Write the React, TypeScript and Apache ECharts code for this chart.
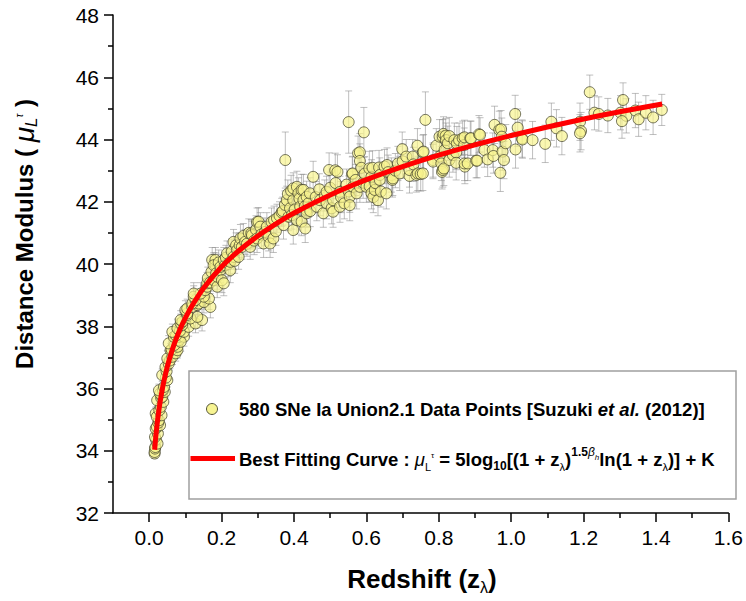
import React, { useEffect, useRef } from 'react';
import * as echarts from 'echarts';

// Axis ticks
const xTickValues = [0, 0.2, 0.4, 0.6, 0.8, 1.0, 1.2, 1.4, 1.6];
const xMinorTickValues = [0.1, 0.3, 0.5, 0.7, 0.9, 1.1, 1.3, 1.5];

// Supernova data points [z, mu, error]
const snLowZ: number[][] = [
  [0.015, 33.91, 0.15], [0.015, 33.96, 0.12], [0.016, 34.07, 0.15], [0.017, 34.12, 0.18],
  [0.019, 34.35, 0.15], [0.023, 34.23, 0.2], [0.016, 34.44, 0.15], [0.024, 34.55, 0.2],
  [0.018, 34.71, 0.18], [0.021, 34.77, 0.2], [0.03, 34.82, 0.2], [0.025, 34.9, 0.2],
  [0.027, 34.98, 0.22], [0.018, 35.2, 0.2], [0.021, 35.09, 0.2], [0.034, 35.14, 0.2],
  [0.028, 35.3, 0.2], [0.032, 35.41, 0.22], [0.022, 35.62, 0.2], [0.039, 35.57, 0.2],
  [0.033, 35.7, 0.2], [0.036, 35.73, 0.22], [0.03, 35.84, 0.2], [0.043, 35.89, 0.2],
  [0.038, 35.95, 0.22], [0.027, 35.94, 0.2], [0.041, 36.05, 0.25], [0.05, 36.27, 0.22],
  [0.046, 36.35, 0.22], [0.036, 36.43, 0.2], [0.048, 36.55, 0.22], [0.045, 36.69, 0.25],
  [0.054, 36.8, 0.22], [0.057, 36.9, 0.25], [0.05, 36.96, 0.25], [0.064, 37.02, 0.25],
  [0.073, 37.13, 0.25], [0.059, 37.23, 0.22], [0.062, 37.25, 0.25], [0.078, 37.23, 0.25],
  [0.078, 37.34, 0.25], [0.07, 37.4, 0.25], [0.054, 37.45, 0.25], [0.082, 37.55, 0.3],
  [0.068, 37.66, 0.25], [0.082, 37.66, 0.3], [0.096, 37.66, 0.3], [0.087, 37.5, 0.3],
  [0.074, 37.7, 0.25], [0.064, 37.82, 0.25], [0.096, 37.82, 0.3], [0.085, 37.85, 0.3],
  [0.078, 37.93, 0.3], [0.109, 37.98, 0.3], [0.091, 38.04, 0.3], [0.087, 38.09, 0.3],
  [0.128, 38.09, 0.3], [0.092, 38.15, 0.3], [0.087, 38.2, 0.3], [0.146, 38.2, 0.35],
  [0.114, 38.25, 0.3], [0.133, 38.3, 0.35], [0.105, 38.36, 0.3], [0.105, 38.41, 0.3],
  [0.1, 38.52, 0.3], [0.105, 38.57, 0.3], [0.119, 38.62, 0.3], [0.169, 38.62, 0.35],
  [0.133, 38.68, 0.35], [0.137, 38.73, 0.35], [0.119, 38.73, 0.3], [0.151, 38.78, 0.35],
  [0.128, 38.84, 0.35], [0.165, 38.89, 0.35], [0.123, 38.95, 0.35], [0.151, 38.95, 0.35],
  [0.142, 39.05, 0.35], [0.123, 39.05, 0.35],
];

const snMidZ: number[][] = [
  [0.155, 39.16, 0.35], [0.16, 39.27, 0.35], [0.16, 39.38, 0.35], [0.162, 39.55, 0.35],
  [0.168, 39.4, 0.35], [0.172, 39.75, 0.35], [0.174, 40.13, 0.4], [0.183, 39.96, 0.4],
  [0.183, 40.13, 0.4], [0.178, 39.96, 0.4], [0.178, 39.48, 0.35], [0.185, 39.7, 0.4],
  [0.188, 39.27, 0.35], [0.188, 39.59, 0.4], [0.192, 40.05, 0.4], [0.197, 39.8, 0.4],
  [0.197, 39.91, 0.4], [0.201, 39.48, 0.4], [0.206, 39.38, 0.4], [0.206, 40.13, 0.4],
  [0.21, 39.96, 0.4], [0.212, 40.2, 0.4], [0.215, 40.34, 0.4], [0.219, 40.0, 0.4],
  [0.224, 39.8, 0.4], [0.224, 40.07, 0.4], [0.228, 40.4, 0.4], [0.233, 40.23, 0.4],
  [0.233, 40.71, 0.4], [0.236, 40.1, 0.4], [0.24, 40.6, 0.4], [0.243, 40.45, 0.4],
  [0.247, 40.23, 0.4], [0.25, 40.6, 0.4], [0.252, 40.82, 0.45], [0.256, 40.55, 0.4],
  [0.26, 40.9, 0.4], [0.265, 40.71, 0.4], [0.27, 40.65, 0.4], [0.275, 41.0, 0.45],
  [0.279, 40.55, 0.4], [0.282, 40.98, 0.45], [0.284, 40.93, 0.45], [0.29, 40.75, 0.45],
  [0.295, 41.1, 0.45], [0.298, 40.82, 0.45], [0.298, 41.35, 0.45], [0.302, 41.36, 0.45],
  [0.307, 41.2, 0.45], [0.31, 40.95, 0.45], [0.316, 40.66, 0.45], [0.32, 41.03, 0.45],
  [0.325, 41.2, 0.45], [0.33, 40.87, 0.45], [0.334, 40.66, 0.45], [0.338, 41.35, 0.45],
  [0.343, 40.82, 0.45], [0.345, 41.41, 0.45], [0.35, 41.05, 0.45], [0.353, 41.47, 0.45],
  [0.36, 41.55, 0.45], [0.366, 41.66, 0.45], [0.369, 41.7, 0.45], [0.371, 41.25, 0.45],
  [0.375, 41.9, 0.45], [0.376, 43.34, 0.9], [0.38, 42.05, 0.45], [0.383, 42.25, 0.45],
  [0.385, 41.52, 0.45], [0.389, 41.79, 0.45], [0.392, 42.35, 0.5], [0.394, 41.57, 0.45],
  [0.398, 42.05, 0.45], [0.398, 42.43, 0.5], [0.398, 41.09, 0.45], [0.402, 41.75, 0.45],
  [0.408, 41.41, 0.45], [0.408, 42.48, 0.5], [0.412, 42.27, 0.5], [0.415, 42.1, 0.5],
  [0.417, 41.84, 0.45], [0.421, 41.36, 0.45], [0.421, 42.38, 0.5], [0.426, 42.05, 0.5],
  [0.426, 42.38, 0.5], [0.43, 41.85, 0.5], [0.431, 41.14, 0.45], [0.435, 41.73, 0.45],
  [0.435, 41.63, 0.45], [0.435, 42.16, 0.5], [0.44, 41.95, 0.45], [0.444, 42.27, 0.5],
  [0.445, 41.7, 0.5],
];

const snUpperZ: number[][] = [
  [0.453, 42.8, 0.5], [0.46, 42.15, 0.5], [0.463, 41.84, 0.45], [0.47, 42.4, 0.5],
  [0.472, 42.05, 0.5], [0.481, 41.63, 0.45], [0.485, 42.2, 0.5], [0.49, 42.32, 0.5],
  [0.49, 41.95, 0.5], [0.497, 43.02, 0.55], [0.5, 42.45, 0.5], [0.504, 41.79, 0.5],
  [0.508, 42.05, 0.5], [0.508, 41.68, 0.5], [0.514, 43.01, 0.55], [0.515, 42.6, 0.5],
  [0.52, 42.96, 0.55], [0.527, 42.32, 0.5], [0.527, 41.84, 0.5], [0.53, 42.15, 0.5],
  [0.539, 41.95, 0.5], [0.545, 42.55, 0.5], [0.551, 44.56, 1.0], [0.551, 42.33, 0.5],
  [0.554, 42.16, 0.5], [0.554, 41.89, 0.5], [0.561, 42.89, 0.55], [0.562, 42.91, 0.55],
  [0.563, 42.48, 0.5], [0.57, 42.7, 0.5], [0.573, 42.27, 0.5], [0.577, 43.56, 0.55],
  [0.582, 43.59, 0.6], [0.582, 43.31, 0.55], [0.582, 42.48, 0.5], [0.586, 43.09, 0.55],
  [0.591, 42.61, 0.5], [0.593, 44.23, 0.8], [0.595, 42.9, 0.55], [0.6, 42.48, 0.5],
  [0.608, 43.07, 0.55], [0.609, 42.5, 0.5], [0.614, 42.8, 0.55], [0.614, 42.27, 0.5],
  [0.617, 43.09, 0.55], [0.619, 42.15, 0.5], [0.623, 42.38, 0.5], [0.625, 42.6, 0.55],
  [0.632, 42.05, 0.5], [0.635, 43.1, 0.55], [0.637, 42.86, 0.55], [0.637, 42.7, 0.55],
  [0.64, 42.33, 0.5], [0.65, 43.13, 0.55], [0.655, 42.27, 0.5], [0.657, 43.18, 0.55],
  [0.66, 42.95, 0.55], [0.669, 42.86, 0.55], [0.672, 42.7, 0.55], [0.673, 42.75, 0.55],
  [0.68, 43.0, 0.55], [0.687, 43.23, 0.55], [0.692, 42.91, 0.55], [0.699, 43.69, 0.55],
  [0.7, 43.3, 0.55], [0.71, 43.45, 0.55], [0.719, 42.83, 0.55], [0.719, 43.02, 0.55],
  [0.728, 43.45, 0.55], [0.73, 43.2, 0.55], [0.738, 42.86, 0.55], [0.741, 43.8, 0.55],
  [0.742, 42.91, 0.55], [0.75, 42.89, 0.55], [0.756, 42.91, 0.55], [0.756, 43.59, 0.55],
  [0.758, 43.61, 0.55], [0.763, 44.63, 0.9], [0.784, 43.34, 0.55], [0.784, 43.29, 0.55],
  [0.793, 43.8, 0.55],
];

const snHighZ: number[][] = [
  [0.802, 44.09, 0.55], [0.802, 43.45, 0.55], [0.807, 43.23, 0.55], [0.809, 42.96, 0.55],
  [0.811, 44.09, 0.55], [0.811, 43.02, 0.55], [0.814, 43.07, 0.55], [0.813, 44.18, 0.55],
  [0.816, 43.66, 0.55], [0.819, 44.12, 0.55], [0.82, 43.98, 0.55], [0.825, 43.88, 0.55],
  [0.829, 44.11, 0.6], [0.829, 43.34, 0.55], [0.839, 43.5, 0.55], [0.843, 43.98, 0.55],
  [0.848, 43.58, 0.55], [0.848, 43.25, 0.55], [0.85, 43.87, 0.55], [0.856, 43.98, 0.55],
  [0.866, 44.04, 0.55], [0.87, 43.82, 0.55], [0.871, 44.07, 0.55], [0.872, 43.13, 0.55],
  [0.871, 43.23, 0.55], [0.88, 43.23, 0.55], [0.887, 44.04, 0.55], [0.889, 44.04, 0.55],
  [0.903, 43.32, 0.55], [0.906, 43.32, 0.55], [0.911, 44.17, 0.6], [0.914, 44.15, 0.55],
  [0.926, 43.66, 0.55], [0.935, 43.36, 0.55], [0.949, 43.66, 0.55], [0.951, 43.47, 0.55],
  [0.954, 44.47, 0.6], [0.967, 44.31, 0.6], [0.97, 42.93, 0.6], [0.972, 44.33, 0.6],
  [0.974, 44.09, 0.6], [0.976, 43.61, 0.6], [0.98, 43.34, 0.6], [0.985, 43.88, 0.6],
  [1.011, 44.82, 0.6], [1.018, 44.38, 0.6], [1.012, 43.68, 0.6], [1.03, 44.03, 0.6],
  [1.031, 44.0, 0.6], [1.059, 43.98, 0.6], [1.094, 43.86, 0.6], [1.111, 44.57, 0.6],
  [1.125, 44.36, 0.6], [1.14, 44.11, 0.6], [1.19, 44.57, 0.6], [1.193, 44.27, 0.6],
  [1.19, 44.2, 0.6], [1.217, 45.52, 0.55], [1.23, 44.86, 0.55], [1.242, 44.82, 0.55],
  [1.267, 44.77, 0.55], [1.302, 44.86, 0.55], [1.309, 45.27, 0.55], [1.318, 44.76, 0.55],
  [1.306, 44.59, 0.55], [1.343, 44.93, 0.55], [1.352, 44.65, 0.55], [1.372, 44.86, 0.55],
  [1.392, 44.71, 0.55], [1.416, 44.95, 0.5],
];

// Best fitting curve
const fitZ = [0.015, 0.018, 0.022, 0.026, 0.03, 0.035, 0.04, 0.05, 0.06, 0.07, 0.08, 0.09, 0.1,
  0.12, 0.15, 0.2, 0.25, 0.3, 0.35, 0.4, 0.5, 0.6, 0.7, 0.8, 0.9, 1.0, 1.1, 1.2, 1.3, 1.417];
const fitMu = [34.03, 34.43, 34.87, 35.24, 35.56, 35.9, 36.2, 36.7, 37.11, 37.46, 37.76, 38.03, 38.27,
  38.69, 39.22, 39.91, 40.45, 40.9, 41.29, 41.64, 42.22, 42.71, 43.13, 43.5, 43.83, 44.13, 44.4, 44.66, 44.89, 45.14];

const FONT = '"Liberation Sans", Arial, sans-serif';

export default function App() {
  const ref = useRef<HTMLDivElement>(null);
  useEffect(() => {
    const chart = echarts.init(ref.current!, null, { renderer: 'svg' });
    const points = [...snLowZ, ...snMidZ, ...snUpperZ, ...snHighZ];
    const barStyle = { stroke: 'rgba(140,140,140,0.7)', lineWidth: 0.8 };

    const LF = 18.5;
    const legendRich = {
      b: { fontSize: LF, fontWeight: 'bold', fontFamily: FONT, lineHeight: 26, color: '#000' },
      bi: { fontSize: LF, fontWeight: 'bold', fontStyle: 'italic', fontFamily: FONT, lineHeight: 26, color: '#000' },
      mu: { fontSize: LF, fontStyle: 'italic', fontFamily: FONT, lineHeight: 26, color: '#000' },
      sub: { fontSize: 12, fontWeight: 'bold', fontFamily: FONT, lineHeight: 16, verticalAlign: 'bottom', color: '#000' },
      subn: { fontSize: 11, fontFamily: FONT, lineHeight: 16, verticalAlign: 'bottom', color: '#000' },
      tsup: { fontSize: 8, fontFamily: FONT, lineHeight: 26, verticalAlign: 'top', color: '#000', padding: [5, 0, 0, 0] },
      sup: { fontSize: 12, fontWeight: 'bold', fontFamily: FONT, lineHeight: 16, verticalAlign: 'top', color: '#000' },
      supi: { fontSize: 12, fontStyle: 'italic', fontFamily: FONT, lineHeight: 16, verticalAlign: 'top', color: '#000' },
      ssub: { fontSize: 8, fontStyle: 'italic', fontFamily: FONT, lineHeight: 20, verticalAlign: 'top', color: '#000', padding: [7, 0, 0, 0] },
    };

    const titleRich = {
      b: { fontSize: 24, fontWeight: 'bold', fontFamily: FONT, lineHeight: 32, color: '#000' },
      bx: { fontSize: 26, fontWeight: 'bold', fontFamily: FONT, lineHeight: 32, color: '#000' },
      mu: { fontSize: 28, fontStyle: 'italic', fontFamily: FONT, lineHeight: 32, color: '#000' },
      sub: { fontSize: 17, fontStyle: 'italic', fontFamily: FONT, lineHeight: 20, verticalAlign: 'bottom', color: '#000' },
      subl: { fontSize: 16, fontFamily: FONT, lineHeight: 20, verticalAlign: 'bottom', color: '#000' },
      tsup: { fontSize: 10, fontStyle: 'italic', fontFamily: FONT, lineHeight: 22, verticalAlign: 'top', color: '#000', padding: [6, 0, 0, 0] },
    };

    const option: any = {
      animation: false,
      backgroundColor: '#fff',
      textStyle: { fontFamily: FONT },
      grid: { left: 113, right: 16, top: 15, bottom: 88, containLabel: false },
      xAxis: [
        {
          type: 'value', min: -0.1, max: 1.6, position: 'bottom',
          axisLine: { show: true, onZero: false, lineStyle: { color: '#000', width: 1.5 } },
          axisTick: { show: true, inside: false, length: 9, customValues: xTickValues, lineStyle: { color: '#000', width: 1.5 } },
          axisLabel: { customValues: xTickValues, fontSize: 21, color: '#000', margin: 14, fontFamily: FONT, formatter: (v: number) => v.toFixed(1) },
          splitLine: { show: false },
        },
        {
          type: 'value', min: -0.1, max: 1.6, position: 'bottom', offset: 0,
          axisLine: { show: false, onZero: false },
          axisTick: { show: true, inside: false, length: 5, customValues: xMinorTickValues, lineStyle: { color: '#000', width: 1.5 } },
          axisLabel: { show: false },
          splitLine: { show: false },
        },
      ],
      yAxis: {
        type: 'value', min: 32, max: 48, interval: 2,
        axisLine: { show: true, onZero: false, lineStyle: { color: '#000', width: 1.5 } },
        axisTick: { show: true, inside: false, length: 9, lineStyle: { color: '#000', width: 1.5 } },
        minorTick: { show: true, splitNumber: 2, length: 5, lineStyle: { color: '#000', width: 1.5 } },
        axisLabel: { fontSize: 21, color: '#000', margin: 14, fontFamily: FONT },
        splitLine: { show: false },
      },
      series: [
        {
          type: 'custom',
          name: 'errors',
          xAxisIndex: 0,
          yAxisIndex: 0,
          silent: true,
          z: 1,
          data: points.map((p) => [p[0], p[1], p[2]]),
          encode: { x: 0, y: 1 },
          renderItem: (params: any, api: any) => {
            const x = api.value(0);
            const y = api.value(1);
            const e = api.value(2);
            const top = api.coord([x, y + e]);
            const bot = api.coord([x, y - e]);
            const hw = 3.5;
            return {
              type: 'group',
              children: [
                { type: 'line', shape: { x1: top[0], y1: top[1], x2: bot[0], y2: bot[1] }, style: barStyle },
                { type: 'line', shape: { x1: top[0] - hw, y1: top[1], x2: top[0] + hw, y2: top[1] }, style: barStyle },
                { type: 'line', shape: { x1: bot[0] - hw, y1: bot[1], x2: bot[0] + hw, y2: bot[1] }, style: barStyle },
              ],
            };
          },
        },
        {
          type: 'scatter',
          name: 'SNe',
          xAxisIndex: 0,
          yAxisIndex: 0,
          z: 2,
          symbol: 'circle',
          symbolSize: 11,
          data: points.map((p) => [p[0], p[1]]),
          itemStyle: { color: 'rgba(247,243,140,0.85)', borderColor: '#3f3f28', borderWidth: 0.9 },
        },
        {
          type: 'line',
          name: 'fit',
          xAxisIndex: 0,
          yAxisIndex: 0,
          z: 3,
          showSymbol: false,
          smooth: 0.2,
          data: fitZ.map((z, i) => [z, fitMu[i]]),
          lineStyle: { color: '#ff0000', width: 5 },
        },
      ],
      graphic: [
        {
          type: 'rect', z: 100,
          shape: { x: 189, y: 371, width: 547, height: 128 },
          style: { fill: '#fff', stroke: '#a0a0a0', lineWidth: 1.5 },
        },
        {
          type: 'circle', z: 101,
          shape: { cx: 212, cy: 409, r: 5.5 },
          style: { fill: 'rgba(247,243,140,0.95)', stroke: '#3f3f28', lineWidth: 0.9 },
        },
        {
          type: 'text', z: 101, x: 239, y: 409,
          style: {
            text: '{b|580 SNe Ia Union2.1 Data Points [Suzuki }{bi|et al.}{b| (2012)]}',
            rich: legendRich, verticalAlign: 'middle', align: 'left',
          },
        },
        {
          type: 'line', z: 101,
          shape: { x1: 190.5, y1: 458.5, x2: 235, y2: 458.5 },
          style: { stroke: '#ff0000', lineWidth: 5 },
        },
        {
          type: 'text', z: 101, x: 239, y: 459,
          style: {
            text: '{b|Best Fitting Curve : }{mu|μ}{subn|L}{tsup|τ}{b| = 5log}{sub|10}{b|[(1 + z}{subn|λ}{b|)}{sup|1.5}{supi|β}{ssub|h}{b|ln(1 + z}{subn|λ}{b|)] + K}',
            rich: legendRich, verticalAlign: 'middle', align: 'left',
          },
        },
        {
          type: 'text', z: 101, x: 24, y: 234, rotation: Math.PI / 2,
          style: {
            text: '{b|Distance Modulus ( }{mu|μ}{sub|L}{tsup|τ}{b| )}',
            rich: titleRich, verticalAlign: 'middle', align: 'center',
          },
        },
        {
          type: 'text', z: 101, x: 422, y: 579,
          style: {
            text: '{bx|Redshift (z}{subl|λ}{bx|)}',
            rich: titleRich, verticalAlign: 'middle', align: 'center',
          },
        },
      ],
    };
    chart.setOption(option);
    return () => chart.dispose();
  }, []);
  return <div ref={ref} style={{ position: 'fixed', left: 0, top: 0, width: 746, height: 601 }} />;
}
